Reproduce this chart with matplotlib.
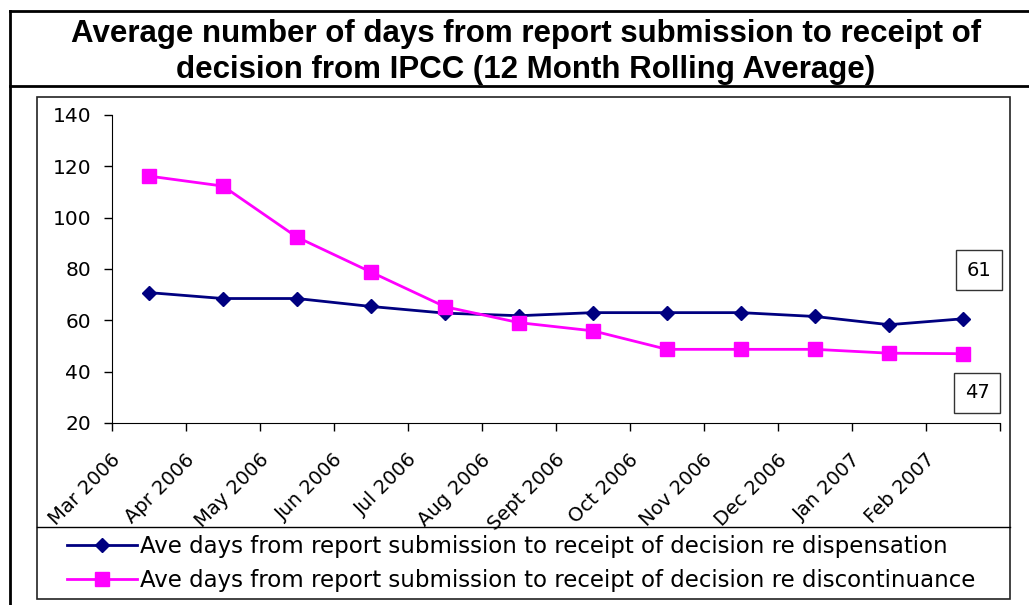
import matplotlib
matplotlib.use('Agg')
import matplotlib.pyplot as plt
import matplotlib.transforms as mtransforms
from matplotlib.lines import Line2D
from matplotlib.patches import Rectangle

# 월별 12개월 이동평균 값
months = ['Mar 2006', 'Apr 2006', 'May 2006', 'Jun 2006', 'Jul 2006', 'Aug 2006',
          'Sept 2006', 'Oct 2006', 'Nov 2006', 'Dec 2006', 'Jan 2007', 'Feb 2007']
dispensation = [70.8, 68.5, 68.5, 65.4, 62.8, 61.8, 63.0, 63.0, 63.0, 61.5, 58.3, 60.6]
discontinuance = [116.2, 112.3, 92.4, 78.8, 65.3, 59.1, 55.9, 48.7, 48.7, 48.7, 47.2, 47.0]
labels = ['Ave days from report submission to receipt of decision re dispensation',
          'Ave days from report submission to receipt of decision re discontinuance']
title = ('Average number of days from report submission to receipt of\n'
         'decision from IPCC (12 Month Rolling Average)')

W, H = 1029, 605
fig = plt.figure(figsize=(W / 100, H / 100), dpi=100)


def fx(px):
    return px / W


def fy(py):
    return 1 - py / H


# 테두리 (제목 상자, 차트 상자, 범례 구분선)
k = dict(transform=fig.transFigure, color='black')
fig.add_artist(Line2D([fx(10), 1], [fy(11), fy(11)], lw=2, **k))
fig.add_artist(Line2D([fx(10), fx(10)], [fy(11), 0], lw=2, **k))
fig.add_artist(Line2D([fx(10), 1], [fy(86), fy(86)], lw=2, **k))
fig.add_artist(Rectangle((fx(37), fy(599)), fx(1010 - 37), (599 - 97) / H,
                         transform=fig.transFigure, fill=False, ec='#222222', lw=1.2))
fig.add_artist(Line2D([fx(37), fx(1010)], [fy(527), fy(527)], lw=1, **k))

fig.text(fx(526), fy(52), title, ha='center', va='center', fontsize=22.5,
         fontweight='bold', family='Liberation Sans', linespacing=1.22)

ax = fig.add_axes([fx(112), fy(423), fx(1000 - 112), (423 - 115) / H])
x = [i + 0.5 for i in range(len(months))]
ax.plot(x, dispensation, color='#000080', lw=2, marker='D', ms=7.5,
        label=labels[0])
ax.plot(x, discontinuance, color='#FF00FF', lw=2, marker='s', ms=10.5,
        label=labels[1])

ax.set_xlim(0, 12)
ax.set_ylim(20, 140)
ax.set_yticks(range(20, 141, 20))
ax.set_xticks(range(13))
ax.set_xticklabels([])
ax.set_xticks(x, minor=True)
ax.set_xticklabels(months, minor=True, rotation=45, ha='right', va='top',
                   rotation_mode='anchor', fontsize=14)
ax.tick_params(axis='x', which='minor', length=0, pad=8)
ax.tick_params(axis='both', which='major', direction='out', length=6, width=1,
               labelsize=14.5, pad=9)
# 회전된 월 라벨을 왼쪽 아래로 이동
shift = mtransforms.ScaledTranslation(-0.38, -0.16, fig.dpi_scale_trans)
for lab in ax.get_xticklabels(minor=True):
    lab.set_transform(lab.get_transform() + shift)
for s in ['top', 'right']:
    ax.spines[s].set_visible(False)

# 마지막 값 상자
box = dict(boxstyle='square,pad=0.55', fc='white', ec='#333333', lw=1)
ax.text(11.72, 79.6, '61', ha='center', va='center', fontsize=14, bbox=box)
ax.text(11.69, 31.7, '47', ha='center', va='center', fontsize=14, bbox=box)

fig.legend(loc='upper left', bbox_to_anchor=(fx(67), fy(535)), frameon=False,
           fontsize=16.5, handlelength=3.05, handletextpad=0.14, labelspacing=0.5,
           borderpad=0, borderaxespad=0)

fig.savefig('out.png', dpi=100)
